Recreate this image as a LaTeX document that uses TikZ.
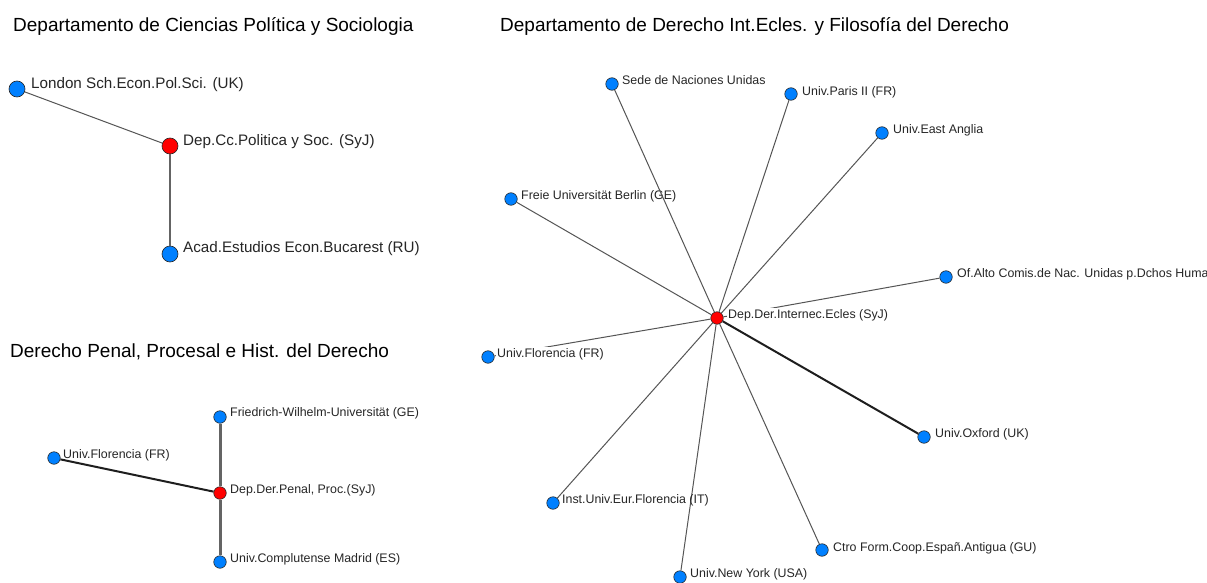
\documentclass[tikz,border=0pt]{standalone}
\usepackage{fontspec}
\setmainfont{Liberation Sans}
\definecolor{nodeblue}{RGB}{0,128,255}
\definecolor{nodered}{RGB}{255,0,0}
\definecolor{edgegray}{RGB}{85,85,85}
\definecolor{edgemid}{RGB}{100,100,100}
\definecolor{edgedark}{RGB}{30,30,30}
\tikzset{
  vbig/.style={circle, draw=black!85, line width=0.6pt, fill=nodeblue, minimum size=16pt, inner sep=0pt},
  rbig/.style={vbig, fill=nodered},
  vsmall/.style={circle, draw=black!85, line width=0.6pt, fill=nodeblue, minimum size=12.5pt, inner sep=0pt},
  rsmall/.style={vsmall, fill=nodered},
  title/.style={anchor=west, inner sep=0pt, font=\fontsize{19}{22}\selectfont, text=black},
  lblbig/.style={anchor=west, inner sep=0pt, font=\fontsize{15.2}{18}\selectfont, text=black!85},
  lbl/.style={anchor=west, inner sep=0pt, font=\fontsize{12.4}{15}\selectfont, text=black!85},
  lblw/.style={lbl, fill=white, inner xsep=1pt, inner ysep=1.5pt},
  thin/.style={draw=edgegray, line width=1pt},
  mid/.style={draw=edgemid, line width=1.8pt},
  thickg/.style={draw=edgemid, line width=3pt},
  thickd/.style={draw=edgedark, line width=2pt},
}
\begin{document}
\begin{tikzpicture}[x=1pt, y=-1pt]
\useasboundingbox (0,0) rectangle (1207,583);
\fill[white] (0,0) rectangle (1207,583);

% ---------- Graph 1 ----------
\node[title] (t1) at (13,26) {Departamento de Ciencias Política y Sociologia};
\node[vbig] (lon) at (17,89) {};
\node[rbig] (dcp) at (170,146) {};
\node[vbig] (aca) at (170,254) {};
\draw[thin] (lon) -- (dcp);
\draw[mid] (dcp) -- (aca);
\node[lblbig] (llon) at (31,85) {London Sch.Econ.Pol.Sci. (UK)};
\node[lblbig] (ldcp) at (183,142) {Dep.Cc.Politica y Soc. (SyJ)};
\node[lblbig] (laca) at (183,249) {Acad.Estudios Econ.Bucarest (RU)};

% ---------- Graph 2 ----------
\node[title] (t2) at (10,352) {Derecho Penal, Procesal e Hist. del Derecho};
\node[vsmall] (fri) at (220,417) {};
\node[vsmall] (flo2) at (54,458) {};
\node[rsmall] (dpp) at (220,493) {};
\node[vsmall] (com) at (220,562) {};
\draw[thickd] (flo2) -- (dpp);
\draw[thickg] (fri) -- (dpp);
\draw[thickg] (dpp) -- (com);
\node[lbl] (lfri) at (230,413) {Friedrich-Wilhelm-Universität (GE)};
\node[lbl] (lflo2) at (63,455) {Univ.Florencia (FR)};
\node[lbl] (ldpp) at (230,490) {Dep.Der.Penal, Proc.(SyJ)};
\node[lbl] (lcom) at (230,559) {Univ.Complutense Madrid (ES)};

% ---------- Graph 3 ----------
\node[title] (t3) at (500,26) {Departamento de Derecho Int.Ecles. y Filosofía del Derecho};
\node[rsmall] (c) at (717,318) {};
\node[vsmall] (sede) at (612,84) {};
\node[vsmall] (par) at (791,94) {};
\node[vsmall] (eas) at (882,133) {};
\node[vsmall] (fre) at (511,199) {};
\node[vsmall] (alto) at (946,277) {};
\node[vsmall] (flo3) at (488,357) {};
\node[vsmall] (oxf) at (924,437) {};
\node[vsmall] (inst) at (553,503) {};
\node[vsmall] (ctro) at (822,550) {};
\node[vsmall] (ny) at (680,577) {};
\draw[thin] (c) -- (par);
\draw[thin] (c) -- (eas);
\draw[thin] (c) -- (fre);
\draw[thin] (c) -- (alto);
\draw[thin] (c) -- (flo3);
\draw[thin] (c) -- (inst);
\draw[thin] (c) -- (ctro);
\draw[thin] (c) -- (ny);
\draw[thickd] (c) -- (oxf);
\node[lbl] (lsede) at (622,80) {Sede de Naciones Unidas};
\node[lbl] (lpar) at (802,92) {Univ.Paris II (FR)};
\node[lbl] (leas) at (893,130) {Univ.East Anglia};
\node[lbl] (lfre) at (521,196) {Freie Universität Berlin (GE)};
\draw[thin] (c) -- (sede);
\node[lbl] (lalto) at (957,274) {Of.Alto Comis.de Nac. Unidas p.Dchos Huma};
\node[lblw] (lc) at (727,315) {Dep.Der.Internec.Ecles (SyJ)};
\node[lblw] (lflo3) at (496,354) {Univ.Florencia (FR)};
\node[lbl] (loxf) at (935,434) {Univ.Oxford (UK)};
\node[lbl] (linst) at (562,500) {Inst.Univ.Eur.Florencia (IT)};
\node[lbl] (lctro) at (833,548) {Ctro Form.Coop.Españ.Antigua (GU)};
\node[lbl] (lny) at (690,574) {Univ.New York (USA)};
\end{tikzpicture}
\end{document}
